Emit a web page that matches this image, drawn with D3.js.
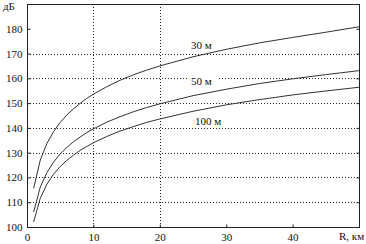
<!DOCTYPE html>
<html>
<head>
<meta charset="utf-8">
<script src="https://cdn.jsdelivr.net/npm/d3@7"></script>
<style>
  body { margin: 0; background: #fff; }
  text { font-family: "Liberation Serif", serif; font-size: 11px; fill: #111; }
</style>
</head>
<body>
<div id="viz"></div>
<script>
const distances = [1, 2, 3, 4, 5, 6, 7, 8, 9, 10, 12, 14, 16, 18, 20, 25, 30, 35, 40, 45, 50]
const loss30 = [115.6, 127.0, 133.7, 138.5, 142.2, 145.2, 147.7, 149.9, 151.9, 153.6, 156.6, 159.2, 161.4, 163.3, 165.0, 168.7, 171.7, 174.3, 176.5, 178.6, 180.8]
const loss50 = [106.0, 116.1, 122.0, 126.2, 129.5, 132.1, 134.4, 136.3, 138.1, 139.6, 142.3, 144.5, 146.5, 148.2, 149.7, 153.0, 155.6, 157.9, 159.8, 161.5, 163.1]
const loss100 = [102.0, 111.6, 117.3, 121.3, 124.4, 126.9, 129.0, 130.9, 132.5, 134.0, 136.5, 138.7, 140.5, 142.2, 143.6, 146.7, 149.3, 151.4, 153.3, 154.9, 156.4]
const seriesLabels = ["30 м", "50 м", "100 м"]
const labelAt = [24.7, 24.7, 25.3]
const labelValue = [171.8, 157.3, 141.2]
const labelBox = [false, true, false]
const yTicks = [100, 110, 120, 130, 140, 150, 160, 170, 180]
const xTicks = [0, 10, 20, 30, 40]
const yGrid = [110, 120, 130, 140, 150, 160, 170]
const xGrid = [10, 20]

const width = 366
const height = 244
const plotLeft = 27, plotRight = 359, plotTop = 4, plotBottom = 227

const svg = d3.select("#viz").append("svg")
  .attr("width", width)
  .attr("height", height)

const x = d3.scaleLinear().domain([0, 50]).range([plotLeft, plotRight])
const y = d3.scaleLinear().domain([100, 190]).range([plotBottom, plotTop])

// grid
svg.selectAll(".hg").data(yGrid).enter().append("line")
  .attr("x1", plotLeft).attr("x2", plotRight)
  .attr("y1", d => Math.round(y(d)) + 0.5).attr("y2", d => Math.round(y(d)) + 0.5)
  .attr("stroke", "#222").attr("stroke-dasharray", "1,2")

svg.selectAll(".vg").data(xGrid).enter().append("line")
  .attr("y1", plotTop).attr("y2", plotBottom)
  .attr("x1", d => Math.round(x(d)) + 0.5).attr("x2", d => Math.round(x(d)) + 0.5)
  .attr("stroke", "#222").attr("stroke-dasharray", "1,2")

// frame
svg.append("rect")
  .attr("x", plotLeft + 0.5).attr("y", plotTop + 0.5)
  .attr("width", plotRight - plotLeft).attr("height", plotBottom - plotTop)
  .attr("fill", "none").attr("stroke", "#222")

// axes
const yAxis = d3.axisLeft(y).tickValues(yTicks).tickSize(-3).tickPadding(5)
svg.append("g").attr("transform", `translate(${plotLeft + 0.5},0)`).call(yAxis)
  .call(g => g.select(".domain").remove())

svg.append("g").attr("transform", `translate(${plotRight + 0.5},0)`)
  .call(d3.axisRight(y).tickValues(yTicks).tickSize(-3).tickFormat(""))
  .call(g => g.select(".domain").remove())

const xAxis = d3.axisBottom(x).tickValues(xTicks).tickSize(-3).tickPadding(6)
svg.append("g").attr("transform", `translate(0,${plotBottom + 0.5})`).call(xAxis)
  .call(g => g.select(".domain").remove())

svg.selectAll(".tick line").attr("stroke", "#222")
svg.selectAll(".tick text").style("font-family", "Liberation Serif, serif").style("font-size", "11px").attr("fill", "#111")

svg.append("text").attr("x", 3).attr("y", 10).text("дБ")
svg.append("text").attr("x", 339).attr("y", 240).text("R, км")

// curves
const line = d3.line()
  .x(d => x(d[0]))
  .y(d => y(d[1]))

const series = [loss30, loss50, loss100]
series.forEach((vals, i) => {
  svg.append("path")
    .datum(distances.map((r, j) => [r, vals[j]]))
    .attr("d", line)
    .attr("fill", "none")
    .attr("stroke", "#333")
    .attr("stroke-width", 1)

  if (labelBox[i]) {
    svg.append("rect")
      .attr("x", x(labelAt[i]) - 4)
      .attr("y", y(labelValue[i]) - 9)
      .attr("width", 32)
      .attr("height", 11)
      .attr("fill", "#fff")
  }
  svg.append("text")
    .attr("x", x(labelAt[i]))
    .attr("y", y(labelValue[i]))
    .text(seriesLabels[i])
})
</script>
</body>
</html>
